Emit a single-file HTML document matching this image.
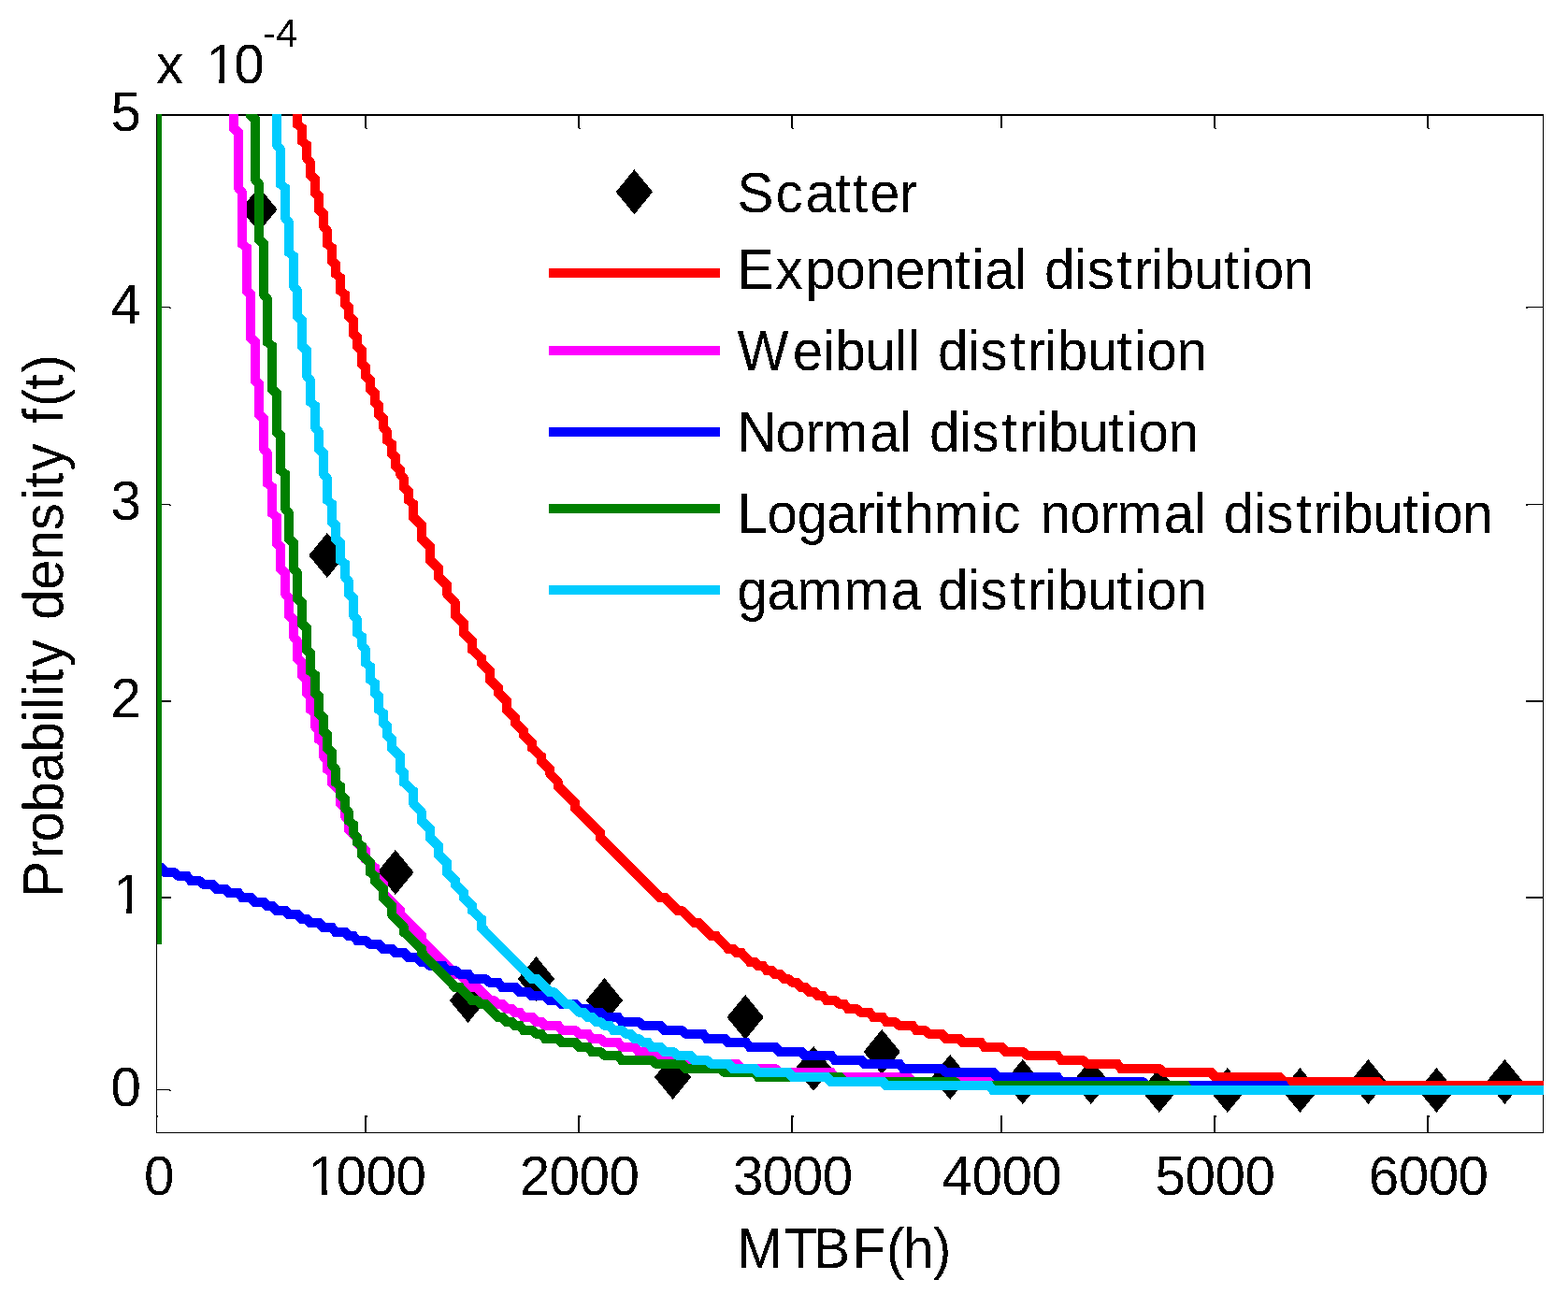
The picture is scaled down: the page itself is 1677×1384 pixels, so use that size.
<!DOCTYPE html>
<html lang="en"><head><meta charset="utf-8"><title>Probability density f(t) versus MTBF(h)</title>
<style>html,body{margin:0;padding:0;background:#fff}body{width:1677px;height:1384px;overflow:hidden}svg{display:block}text{font-family:"Liberation Sans",Arial,Helvetica,sans-serif;font-size:58.33px;fill:#000;white-space:pre}</style></head><body>
<svg width="1677" height="1384" viewBox="0 0 1677 1384">
<rect width="1677" height="1384" fill="#fff"/>
<defs><filter id="bw" x="0" y="0" width="1677" height="1384" filterUnits="userSpaceOnUse" color-interpolation-filters="sRGB"><feComponentTransfer><feFuncA type="discrete" tableValues="0 0 1 1"/></feComponentTransfer></filter></defs>
<defs><clipPath id="ax"><rect x="168" y="122" width="1483.0" height="1089.0"/></clipPath></defs>
<g fill="#000" shape-rendering="crispEdges">
<rect x="167" y="122" width="1484" height="2"/>
<rect x="167" y="1211" width="1484" height="1"/>
<rect x="167" y="122" width="1" height="1090"/>
<rect x="1650" y="122" width="1" height="1090"/>
<rect x="390" y="1193" width="2" height="18"/>
<rect x="390" y="124" width="2" height="13"/>
<rect x="390" y="1193" width="3" height="2"/><rect x="391" y="137" width="2" height="1"/>
<rect x="618" y="1193" width="2" height="18"/>
<rect x="618" y="124" width="2" height="13"/>
<rect x="618" y="1193" width="3" height="2"/><rect x="619" y="137" width="2" height="1"/>
<rect x="846" y="1193" width="2" height="18"/>
<rect x="846" y="124" width="2" height="13"/>
<rect x="846" y="1193" width="3" height="2"/><rect x="847" y="137" width="2" height="1"/>
<rect x="1070" y="1193" width="2" height="18"/>
<rect x="1070" y="124" width="2" height="13"/>
<rect x="1298" y="1193" width="2" height="18"/>
<rect x="1298" y="124" width="2" height="13"/>
<rect x="1298" y="1193" width="3" height="2"/><rect x="1299" y="137" width="2" height="1"/>
<rect x="1526" y="1193" width="2" height="18"/>
<rect x="1526" y="124" width="2" height="13"/>
<rect x="1526" y="1193" width="3" height="2"/><rect x="1527" y="137" width="2" height="1"/>
<rect x="168" y="1193" width="1" height="2"/>
<rect x="168" y="328" width="14" height="1"/><rect x="181" y="329" width="2" height="1"/>
<rect x="1632" y="328" width="18" height="1"/><rect x="1632" y="328" width="2" height="2"/>
<rect x="168" y="539" width="14" height="1"/><rect x="181" y="540" width="2" height="1"/>
<rect x="1632" y="539" width="18" height="1"/><rect x="1632" y="539" width="2" height="2"/>
<rect x="168" y="749" width="15" height="2"/><rect x="1632" y="749" width="18" height="2"/>
<rect x="168" y="959" width="15" height="2"/><rect x="1632" y="959" width="18" height="2"/>
<rect x="168" y="1165" width="14" height="1"/><rect x="181" y="1166" width="2" height="1"/>
<rect x="1632" y="1165" width="18" height="1"/><rect x="1632" y="1165" width="2" height="2"/>
</g>
<g fill="#000" shape-rendering="crispEdges"><polygon points="276.9,200.0 296.6,224.0 276.9,248.0 257.2,224.0"/><polygon points="349.9,570.0 369.6,594.0 349.9,618.0 330.2,594.0"/><polygon points="422.9,909.0 442.6,933.0 422.9,957.0 403.2,933.0"/><polygon points="500.5,1046.0 520.2,1070.0 500.5,1094.0 480.8,1070.0"/><polygon points="573.5,1023.0 593.2,1047.0 573.5,1071.0 553.8,1047.0"/><polygon points="646.5,1046.0 666.2,1070.0 646.5,1094.0 626.8,1070.0"/><polygon points="719.6,1128.0 739.3,1152.0 719.6,1176.0 699.9,1152.0"/><polygon points="797.1,1064.0 816.8,1088.0 797.1,1112.0 777.4,1088.0"/><polygon points="870.1,1119.0 889.8,1143.0 870.1,1167.0 850.4,1143.0"/><polygon points="943.2,1101.0 962.9,1125.0 943.2,1149.0 923.5,1125.0"/><polygon points="1016.2,1128.0 1035.9,1152.0 1016.2,1176.0 996.5,1152.0"/><polygon points="1093.8,1133.0 1113.5,1157.0 1093.8,1181.0 1074.1,1157.0"/><polygon points="1166.8,1133.0 1186.5,1157.0 1166.8,1181.0 1147.1,1157.0"/><polygon points="1239.8,1142.0 1259.5,1166.0 1239.8,1190.0 1220.1,1166.0"/><polygon points="1312.8,1142.0 1332.5,1166.0 1312.8,1190.0 1293.1,1166.0"/><polygon points="1390.4,1142.0 1410.1,1166.0 1390.4,1190.0 1370.7,1166.0"/><polygon points="1463.4,1133.0 1483.1,1157.0 1463.4,1181.0 1443.7,1157.0"/><polygon points="1536.4,1142.0 1556.1,1166.0 1536.4,1190.0 1516.7,1166.0"/><polygon points="1609.4,1133.0 1629.1,1157.0 1609.4,1181.0 1589.7,1157.0"/></g>
<g clip-path="url(#ax)" fill="none" stroke-width="10" stroke-linejoin="miter" stroke-miterlimit="10" stroke-linecap="butt" shape-rendering="crispEdges">
<path stroke="#ff0000" d="M168 -23 L168 -23 L172 -23 L172 -23 L177 -23 L177 -23 L181 -23 L181 -23 L186 -23 L186 -23 L191 -23 L191 -23 L195 -23 L195 -23 L200 -23 L200 -23 L204 -23 L204 -23 L209 -23 L209 -23 L213 -23 L213 -23 L218 -23 L218 -23 L223 -23 L223 -23 L227 -23 L227 -23 L232 -23 L232 -23 L236 -23 L236 -23 L241 -23 L241 -23 L245 -23 L245 -23 L250 -23 L250 -23 L255 -23 L255 -23 L259 -23 L259 -23 L264 -23 L264 -23 L268 -23 L268 -23 L273 -23 L273 -23 L277 -23 L277 -23 L282 -23 L282 -23 L286 -23 L286 -14 L291 -9 L291 9 L296 14 L296 32 L300 37 L300 50 L305 55 L305 73 L309 78 L309 91 L314 96 L314 114 L318 119 L318 133 L323 137 L323 151 L328 155 L328 169 L332 174 L332 187 L337 192 L337 206 L341 210 L341 224 L346 229 L346 242 L350 247 L350 261 L355 265 L355 279 L359 283 L359 293 L364 297 L364 311 L369 315 L369 325 L373 329 L373 338 L378 343 L378 357 L382 361 L382 370 L387 375 L387 389 L391 393 L391 402 L396 407 L396 416 L401 421 L401 430 L405 434 L405 443 L410 448 L410 457 L414 462 L414 471 L419 475 L419 485 L423 489 L423 498 L428 503 L428 507 L432 512 L432 521 L437 526 L437 535 L442 539 L442 553 L451 562 L451 576 L460 585 L460 599 L469 608 L469 617 L478 626 L478 635 L487 645 L487 658 L496 667 L496 677 L505 686 L505 695 L515 704 L515 709 L524 718 L524 727 L533 736 L533 741 L542 750 L542 759 L551 768 L551 773 L560 782 L560 786 L569 795 L569 800 L579 809 L579 814 L588 823 L588 827 L597 837 L597 841 L615 859 L615 864 L642 891 L642 896 L706 960 L711 960 L725 974 L729 974 L743 987 L747 987 L761 1001 L766 1001 L779 1015 L784 1015 L788 1019 L793 1019 L802 1029 L807 1029 L811 1033 L816 1033 L820 1038 L825 1038 L829 1042 L834 1042 L839 1047 L843 1047 L848 1051 L852 1051 L857 1056 L861 1056 L866 1061 L871 1061 L875 1065 L880 1065 L884 1070 L893 1070 L898 1074 L903 1074 L907 1079 L916 1079 L921 1083 L930 1083 L934 1088 L944 1088 L948 1093 L957 1093 L962 1097 L976 1097 L980 1102 L989 1102 L994 1106 L1007 1106 L1012 1111 L1026 1111 L1030 1115 L1049 1115 L1053 1120 L1071 1120 L1076 1125 L1094 1125 L1099 1129 L1131 1129 L1135 1134 L1158 1134 L1163 1138 L1195 1138 L1199 1143 L1240 1143 L1245 1147 L1295 1147 L1300 1152 L1368 1152 L1373 1157 L1473 1157 L1477 1161 L1655 1161 L1660 1166"/>
<path stroke="#ff00ff" d="M168 -23 L168 -23 L172 -23 L172 -23 L177 -23 L177 -23 L181 -23 L181 -23 L186 -23 L186 -23 L191 -23 L191 -23 L195 -23 L195 -23 L200 -23 L200 -23 L204 -23 L204 -23 L209 -23 L209 -23 L213 -23 L213 -23 L218 -23 L218 -23 L223 -23 L223 -23 L227 -23 L227 -23 L232 -23 L232 -23 L236 -23 L236 -23 L241 -23 L241 -14 L245 -9 L245 69 L250 73 L250 137 L255 142 L255 201 L259 206 L259 261 L264 265 L264 311 L268 315 L268 361 L273 366 L273 407 L277 411 L277 443 L282 448 L282 480 L286 485 L286 517 L291 521 L291 549 L296 553 L296 581 L300 585 L300 608 L305 613 L305 635 L309 640 L309 658 L314 663 L314 681 L318 686 L318 704 L323 709 L323 722 L328 727 L328 741 L332 745 L332 759 L337 763 L337 777 L341 782 L341 791 L346 795 L346 809 L350 814 L350 823 L355 827 L355 837 L364 846 L364 859 L369 864 L369 873 L373 878 L373 887 L382 896 L382 901 L391 910 L391 919 L401 928 L401 937 L410 946 L410 955 L428 974 L428 978 L451 1001 L451 1006 L487 1042 L492 1042 L505 1056 L510 1056 L524 1070 L528 1070 L533 1074 L537 1074 L542 1079 L547 1079 L551 1083 L556 1083 L560 1088 L569 1088 L574 1093 L579 1093 L583 1097 L597 1097 L601 1102 L615 1102 L620 1106 L629 1106 L633 1111 L642 1111 L647 1115 L661 1115 L665 1120 L679 1120 L683 1125 L693 1125 L697 1129 L702 1129 L706 1134 L738 1134 L743 1138 L788 1138 L793 1143 L829 1143 L834 1147 L889 1147 L893 1152 L971 1152 L976 1157 L1062 1157 L1067 1161 L1281 1161 L1286 1166 L1660 1166"/>
<path stroke="#0000ff" d="M168 928 L172 928 L177 933 L186 933 L191 937 L200 937 L204 942 L213 942 L218 946 L227 946 L232 951 L241 951 L245 955 L255 955 L259 960 L268 960 L273 965 L282 965 L286 969 L291 969 L296 974 L305 974 L309 978 L318 978 L323 983 L328 983 L332 987 L341 987 L346 992 L355 992 L359 997 L369 997 L373 1001 L378 1001 L382 1006 L391 1006 L396 1010 L405 1010 L410 1015 L419 1015 L423 1019 L432 1019 L437 1024 L446 1024 L451 1029 L455 1029 L460 1033 L474 1033 L478 1038 L487 1038 L492 1042 L501 1042 L505 1047 L519 1047 L524 1051 L533 1051 L537 1056 L551 1056 L556 1061 L565 1061 L569 1065 L583 1065 L588 1070 L597 1070 L601 1074 L615 1074 L620 1079 L629 1079 L633 1083 L642 1083 L647 1088 L661 1088 L665 1093 L683 1093 L688 1097 L706 1097 L711 1102 L729 1102 L734 1106 L752 1106 L756 1111 L775 1111 L779 1115 L798 1115 L802 1120 L829 1120 L834 1125 L857 1125 L861 1129 L889 1129 L893 1134 L921 1134 L925 1138 L962 1138 L966 1143 L1007 1143 L1012 1147 L1062 1147 L1067 1152 L1131 1152 L1135 1157 L1222 1157 L1227 1161 L1373 1161 L1377 1166 L1660 1166"/>
<path stroke="#008000" d="M168 1010 L168 -23 L172 -23 L172 -23 L177 -23 L177 -23 L181 -23 L181 -23 L186 -23 L186 -23 L191 -23 L191 -23 L195 -23 L195 -23 L200 -23 L200 -23 L204 -23 L204 -23 L209 -23 L209 -23 L213 -23 L213 -23 L218 -23 L218 -23 L223 -23 L223 -23 L227 -23 L227 -23 L232 -23 L232 -23 L236 -23 L236 -23 L241 -23 L241 -23 L245 -23 L245 -23 L250 -23 L250 -23 L255 -23 L255 -23 L259 -23 L259 -23 L264 -23 L264 46 L268 50 L268 123 L273 128 L273 192 L277 197 L277 256 L282 261 L282 315 L286 320 L286 366 L291 370 L291 416 L296 421 L296 462 L300 466 L300 503 L305 507 L305 544 L309 549 L309 576 L314 581 L314 608 L318 613 L318 640 L323 645 L323 667 L328 672 L328 695 L332 699 L332 718 L337 722 L337 741 L341 745 L341 763 L346 768 L346 782 L350 786 L350 800 L355 805 L355 818 L359 823 L359 837 L364 841 L364 850 L369 855 L369 864 L373 869 L373 878 L378 882 L378 891 L382 896 L382 901 L387 905 L387 914 L396 923 L396 933 L401 937 L401 942 L410 951 L410 960 L419 969 L419 978 L432 992 L432 997 L451 1015 L451 1019 L487 1056 L492 1056 L505 1070 L510 1070 L515 1074 L519 1074 L533 1088 L537 1088 L542 1093 L547 1093 L551 1097 L556 1097 L560 1102 L569 1102 L574 1106 L579 1106 L583 1111 L597 1111 L601 1115 L615 1115 L620 1120 L629 1120 L633 1125 L642 1125 L647 1129 L661 1129 L665 1134 L697 1134 L702 1138 L729 1138 L734 1143 L770 1143 L775 1147 L807 1147 L811 1152 L898 1152 L903 1157 L1021 1157 L1026 1161 L1268 1161 L1272 1166 L1660 1166"/>
<path stroke="#00ccff" d="M168 -23 L168 -23 L172 -23 L172 -23 L177 -23 L177 -23 L181 -23 L181 -23 L186 -23 L186 -23 L191 -23 L191 -23 L195 -23 L195 -23 L200 -23 L200 -23 L204 -23 L204 -23 L209 -23 L209 -23 L213 -23 L213 -23 L218 -23 L218 -23 L223 -23 L223 -23 L227 -23 L227 -23 L232 -23 L232 -23 L236 -23 L236 -23 L241 -23 L241 -23 L245 -23 L245 -23 L250 -23 L250 -23 L255 -23 L255 -23 L259 -23 L259 -23 L264 -23 L264 -23 L268 -23 L268 -23 L273 -23 L273 -23 L277 -23 L277 -23 L282 -23 L282 23 L286 27 L286 69 L291 73 L291 114 L296 119 L296 155 L300 160 L300 197 L305 201 L305 233 L309 238 L309 270 L314 274 L314 306 L318 311 L318 338 L323 343 L323 370 L328 375 L328 402 L332 407 L332 430 L337 434 L337 457 L341 462 L341 480 L346 485 L346 507 L350 512 L350 535 L355 539 L355 558 L359 562 L359 576 L364 581 L364 599 L369 603 L369 617 L373 622 L373 635 L378 640 L378 658 L382 663 L382 677 L387 681 L387 690 L391 695 L391 709 L396 713 L396 727 L401 731 L401 741 L405 745 L405 759 L410 763 L410 773 L414 777 L414 786 L419 791 L419 800 L428 809 L428 823 L432 827 L432 837 L442 846 L442 859 L451 869 L451 878 L460 887 L460 896 L469 905 L469 914 L478 923 L478 933 L487 942 L487 946 L496 955 L496 960 L505 969 L505 974 L515 983 L515 992 L569 1047 L574 1047 L588 1061 L592 1061 L606 1074 L610 1074 L620 1083 L624 1083 L629 1088 L633 1088 L638 1093 L642 1093 L647 1097 L652 1097 L656 1102 L665 1102 L670 1106 L674 1106 L679 1111 L683 1111 L688 1115 L693 1115 L697 1120 L706 1120 L711 1125 L720 1125 L725 1129 L738 1129 L743 1134 L756 1134 L761 1138 L779 1138 L784 1143 L807 1143 L811 1147 L843 1147 L848 1152 L884 1152 L889 1157 L944 1157 L948 1161 L1058 1161 L1062 1166 L1660 1166"/>
</g>
<g shape-rendering="crispEdges">
<rect x="587" y="287" width="183" height="10" fill="#ff0000"/>
<rect x="587" y="370" width="183" height="10" fill="#ff00ff"/>
<rect x="587" y="457" width="183" height="10" fill="#0000ff"/>
<rect x="587" y="539" width="183" height="10" fill="#008000"/>
<rect x="587" y="626" width="183" height="10" fill="#00ccff"/>
<polygon points="678.4,181.3 698.1,205.3 678.4,229.3 658.7,205.3" fill="#000"/>
</g>
<g filter="url(#bw)">
<text transform="translate(0,227.0) scale(1,1.046)" x="788.5 829.6 861.5 893.5 911.7 930.0 961.9" y="0">Scatter</text>
<text transform="translate(0,309.0) scale(1,1.046)" x="788.5 829.6 861.5 893.5 925.4 957.3 989.3 1021.2 1039.5 1053.2 1085.1 1098.8 1117.1 1149.0 1162.7 1194.6 1212.9 1231.1 1244.8 1276.8 1308.7 1327.0 1340.7 1372.6" y="0">Exponential distribution</text>
<text transform="translate(0,396.1) scale(1,1.046)" x="788.5 847.8 879.8 893.5 925.4 957.3 971.0 984.7 1003.0 1034.9 1048.6 1080.6 1098.8 1117.1 1130.8 1162.7 1194.6 1212.9 1226.6 1258.5" y="0">Weibull distribution</text>
<text transform="translate(0,483.2) scale(1,1.046)" x="788.5 829.6 861.5 879.8 930.0 961.9 975.6 993.9 1025.8 1039.5 1071.4 1089.7 1107.9 1121.6 1153.6 1185.5 1203.8 1217.5 1249.4" y="0">Normal distribution</text>
<text transform="translate(0,570.0) scale(1,1.046)" x="788.5 820.4 852.4 884.3 916.3 934.5 948.2 966.5 998.4 1048.6 1062.3 1094.2 1112.5 1144.4 1176.4 1194.6 1244.8 1276.8 1290.5 1308.7 1340.7 1354.4 1386.3 1404.6 1422.8 1436.5 1468.4 1500.4 1518.6 1532.3 1564.3" y="0">Logarithmic normal distribution</text>
<text transform="translate(0,651.5) scale(1,1.046)" x="788.5 820.4 852.4 902.6 952.8 984.7 1003.0 1034.9 1048.6 1080.6 1098.8 1117.1 1130.8 1162.7 1194.6 1212.9 1226.6 1258.5" y="0">gamma distribution</text>
<text x="154.1" y="1278.2">0</text>
<text x="329.6 359.5 391.4 423.4" y="1278.2">1000</text>
<text x="555.7 587.6 619.6 651.5" y="1278.2">2000</text>
<text x="783.9 815.8 847.7 879.7" y="1278.2">3000</text>
<text x="1007.5 1039.4 1071.4 1103.3" y="1278.2">4000</text>
<text x="1235.6 1267.6 1299.5 1331.5" y="1278.2">5000</text>
<text x="1463.8 1495.7 1527.7 1559.6" y="1278.2">6000</text>
<text x="151" y="139.7" text-anchor="end">5</text>
<text x="151" y="346.0" text-anchor="end">4</text>
<text x="151" y="556.3" text-anchor="end">3</text>
<text x="151" y="766.7" text-anchor="end">2</text>
<text y="977.0"><tspan x="121.1">1</tspan></text>
<text x="151" y="1182.6" text-anchor="end">0</text>
<text y="88.9"><tspan x="167.0">x</tspan> <tspan x="220.4 250.3">10</tspan><tspan x="281.0" y="50.1" font-size="42">-4</tspan></text>
<text transform="translate(0,1355.7) scale(1,1.046)" x="788.2 838.4 870.3 911.4 947.9 966.2 998.1" y="0">MTBF(h)</text>
<g transform="translate(67.8,0) rotate(-90)"><text transform="translate(0,0.0) scale(1,1.046)" x="-959.7 -918.6 -900.4 -868.4 -836.5 -804.5 -772.6 -758.9 -745.2 -731.5 -713.3 -681.3 -663.1 -631.1 -599.2 -567.2 -535.3 -521.6 -503.4 -471.4 -453.2 -434.9 -416.7 -398.4" y="0">Probability density f(t)</text></g>
</g>
<g fill="#fff" shape-rendering="crispEdges"><rect x="332" y="1272" width="12" height="7"/><rect x="350" y="1272" width="11" height="7"/><rect x="123" y="971" width="12" height="7"/><rect x="141" y="971" width="11" height="7"/><rect x="222" y="83" width="12" height="7"/><rect x="240" y="83" width="11" height="7"/></g>
</svg></body></html>
